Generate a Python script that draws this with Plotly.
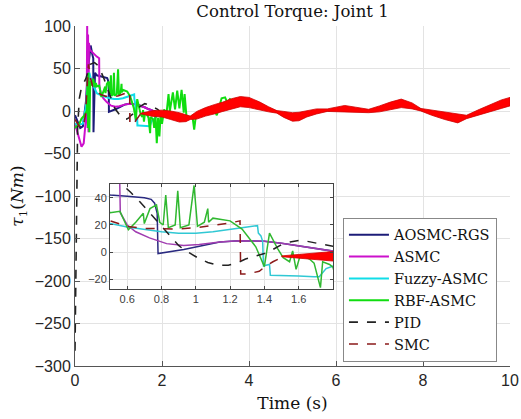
import plotly.graph_objects as go

# ---------------- data ----------------
# SMC chattering band (centre and half-width), also the common tail all controllers follow
BAND_T = [1.5, 1.6, 1.7, 1.8, 2.0, 2.2, 2.4, 2.55, 2.65, 2.8, 3.0, 3.2, 3.4, 3.6, 3.8, 4.0,
          4.25, 4.45, 4.64, 4.8, 5.0, 5.15, 5.33, 5.55, 5.8, 6.0, 6.2, 6.45, 6.75, 7.0, 7.25,
          7.5, 7.75, 7.95, 8.2, 8.5, 8.8, 9.0, 9.3, 9.6, 9.8, 10.0]
BAND_MID = [-3, -3, -3, -3, -3, -5, -7.5, -8.5, -8, -5, -1, 2, 5, 8.5, 11, 10,
            6, 2, -1, -4, -7, -6.5, -3.5, -0.5, 1, 1.5, 2.5, 1.5, 0, 2.5, 6,
            9, 6, 1.5, -2, -5.5, -9, -7, -1, 4.5, 8, 11]
BAND_HALF = [0.3, 1.5, 2.5, 3.5, 4, 5, 5.5, 4, 2, 4.5, 5, 5.5, 5.5, 6, 6, 6,
             4.5, 3, 1.5, 3.5, 5, 5, 3.5, 3, 1.5, 3, 4, 3, 2, 3.5, 4.5,
             5, 3.5, 1.5, 3, 4.5, 5, 2, 3, 4.5, 5, 5]

AOSMC_T = [0, 0.05, 0.12, 0.18, 0.25, 0.3, 0.34, 0.36, 0.4, 0.42, 0.425, 0.44, 0.46, 0.5,
           0.6, 0.7, 0.74, 0.76, 0.775, 0.78, 0.93, 1.14, 1.25, 1.4, 1.5, 1.6, 1.7, 1.8, 1.9]
AOSMC_V = [-5, -12, -20, -18, 10, 50, 70, 77, 66, 62, -25, 30, 45, 42,
           41, 40, 38.8, 36, 28.6, -1, 2, 7.5, 8.5, 8, 6.5, 4.4, 2, 0, -2]

ASMC_T = [0, 0.08, 0.15, 0.2, 0.25, 0.27, 0.28, 0.29, 0.3, 0.31, 0.32, 0.34, 0.38, 0.45,
          0.5, 0.555, 0.56, 0.6, 0.65, 0.73, 0.83, 0.93, 1.02, 1.14, 1.25, 1.4, 1.5, 1.6,
          1.7, 1.8, 1.9]
ASMC_V = [-15, -30, -42, -38, -10, 15, 100, -20, 90, -25, 80, 72, 70, 66,
          64, 62, 29, 20, 15, 10.5, 6.3, 5, 5.6, 7.5, 8.5, 8, 6.5, 4.4,
          2, 0, -2]

FUZZY_T = [0, 0.1, 0.18, 0.25, 0.3, 0.33, 0.38, 0.45, 0.5, 0.6, 0.7, 0.8, 0.9, 1.0, 1.1,
           1.2, 1.3, 1.36, 1.365, 1.38, 1.385, 1.39, 1.395, 1.43, 1.435, 1.46, 1.6, 1.69,
           1.72, 1.76, 1.8, 1.85, 1.9]
FUZZY_V = [-15, -16, -15, 5, 35, 45, 35, 26, 21, 18.5, 16.5, 15, 14, 14, 15,
           17, 18.5, 19.5, 14, 12, 9, 8, -10, -9, -17, -17, -17.5, -18,
           -18, -12, -10, -8, -4]

RBF_T = [0, 0.1, 0.15, 0.22, 0.27, 0.29, 0.3, 0.31, 0.33, 0.35, 0.38, 0.42, 0.45, 0.48,
         0.5, 0.558, 0.607, 0.65, 0.694, 0.70, 0.733, 0.771, 0.79, 0.81, 0.825, 0.84,
         0.88, 0.895, 0.91, 0.96, 0.99, 1.01, 1.05, 1.07, 1.075, 1.1, 1.2, 1.27, 1.35,
         1.4, 1.43, 1.48, 1.51, 1.547, 1.565, 1.585, 1.61, 1.663, 1.69, 1.727, 1.74,
         1.78, 1.8, 1.82, 1.85, 1.88, 1.91, 1.94, 1.97, 2.0, 2.05, 2.1, 2.15, 2.18,
         2.25, 2.3, 2.35, 2.4, 2.45, 2.5, 2.52, 2.56, 2.6, 2.7, 2.74, 2.78, 2.9, 3.0,
         3.2, 3.26, 3.3, 3.37, 3.45, 3.5, 3.56, 3.64, 3.7, 3.8]
RBF_V = [-20, -15, -9, -5, 0, 40, -20, 45, -25, 35, 30, 38, 28, 33,
         29, 30, 16.5, 22, 28.6, 21, 32, 34.7, 22, 20, 42, 18,
         20, 45, 18, 20, 49, 19, 22, 32, 22, 25, 23, 17, 4,
         -10.6, 14, 2, -4, -7, 1, -12.6, -2, -5, -8, -26, -7,
         -9, -11, -20, -5, -38, -8, -30, -3, -15, 2, -5, 20, 0,
         22, 2, 24, 3, 25, -2, 20, -5, -8, -6, -22, -5, -3, -1,
         1, -5, 2, 15, 16, 10, 14, 12, 10, 11]

PID_T = [0, 0.02, 0.04, 0.06, 0.1, 0.15, 0.25, 0.35, 0.45, 0.52, 0.568, 0.62, 0.674, 0.73,
         0.79, 0.85, 0.9, 0.93, 1.01, 1.07, 1.13, 1.19, 1.244, 1.29, 1.35, 1.4, 1.45, 1.5,
         1.55, 1.605, 1.65, 1.69, 1.75, 1.8, 1.9]
PID_V = [-282, -200, -90, -20, 15, 28, 38, 55, 57, 54, 50, 44, 37, 29,
         20, 12, 5, 2, -4, -7.5, -9.7, -9.5, -7.7, -5, -3, -1, 2, 5.6,
         7.5, 8.7, 8, 6.8, 5.5, 4.4, 2]

SMC_T = [0, 0.1, 0.18, 0.24, 0.28, 0.31, 0.35, 0.4, 0.45, 0.5, 0.6, 0.7, 0.8, 0.9, 1.0,
         1.1, 1.2, 1.258, 1.262, 1.3, 1.37, 1.4, 1.45, 1.5]
SMC_V = [-10, -18, -20, -5, 30, 55, 40, 30, 25, 23, 19, 17.5, 17, 17, 18,
         19.5, 21.5, 23, -16, -16, -14, -11, -7, -4]

NAMES = ["AOSMC-RGS", "ASMC", "Fuzzy-ASMC", "RBF-ASMC", "PID", "SMC"]
MAIN_X_TICKS = [0, 2, 4, 6, 8, 10]
MAIN_Y_TICKS = [-300, -250, -200, -150, -100, -50, 0, 50, 100]
INSET_X_TICKS = [0.6, 0.8, 1.0, 1.2, 1.4, 1.6]
INSET_X_TEXT = ["0.6", "0.8", "1", "1.2", "1.4", "1.6"]
INSET_Y_TICKS = [-20, 0, 20, 40]


def with_tail(t, v):
    tt, vv = list(t), list(v)
    for a, b in zip(BAND_T, BAND_MID):
        if a > tt[-1]:
            tt.append(a)
            vv.append(b)
    return tt, vv


SERIES = [
    (AOSMC_T, AOSMC_V, "#1c1c78", "#2a2a80", "solid"),
    (ASMC_T, ASMC_V, "#cc10cc", "#a03cb0", "solid"),
    (FUZZY_T, FUZZY_V, "#10dde8", "#30c8d4", "solid"),
    (RBF_T, RBF_V, "#10dd10", "#30b830", "solid"),
    (PID_T, PID_V, "#222222", "#222222", "dash"),
    (SMC_T, SMC_V, "#8b1a1a", "#8b1a1a", "dash"),
]

SERIF = "DejaVu Serif"
SANS = "Liberation Sans"

fig = go.Figure()

band_x = BAND_T + BAND_T[::-1]
band_y = [m + h for m, h in zip(BAND_MID, BAND_HALF)] + \
         [m - h for m, h in zip(BAND_MID[::-1], BAND_HALF[::-1])]

for axis_i, (xa, ya) in enumerate([("x", "y"), ("x2", "y2")]):
    for k, (t, v, c_main, c_in, dash) in enumerate(SERIES):
        if NAMES[k] == "SMC":
            tt, vv = list(t), list(v)
        else:
            tt, vv = with_tail(t, v)
        main = axis_i == 0
        fig.add_trace(go.Scatter(
            x=tt, y=vv, mode="lines", name=NAMES[k],
            xaxis=xa, yaxis=ya, showlegend=main,
            line=dict(color=c_main if main else c_in,
                      width=(1.6 if dash == "dash" else 2.0) if main else 1.5,
                      dash=dash),
        ))
    fig.add_trace(go.Scatter(
        x=band_x, y=band_y, mode="lines", fill="toself",
        fillcolor="#ff0000", line=dict(color="#d00000", width=0.8),
        xaxis=xa, yaxis=ya, showlegend=False, hoverinfo="skip",
    ))

axis_common = dict(showgrid=True, gridcolor="#e3e3e3", gridwidth=1, zeroline=False,
                   showline=True, ticks="inside", automargin=False)

fig.update_layout(
    width=521, height=419,
    margin=dict(l=75, r=11, t=26, b=53, autoexpand=False),
    paper_bgcolor="white", plot_bgcolor="white",
    title=dict(text="Control Torque: Joint 1", x=292.5 / 521, xanchor="center",
               y=1 - 11 / 419, yanchor="middle", yref="container",
               font=dict(family=SERIF, size=16.5, color="#111")),
    xaxis=dict(range=[0, 10], tickvals=MAIN_X_TICKS, linecolor="#555", ticklen=5,
               tickcolor="#555", mirror=False,
               tickfont=dict(family=SANS, size=16, color="#262626"),
               title=dict(text="Time (s)", font=dict(family=SERIF, size=17, color="#111"),
                          standoff=8),
               **axis_common),
    yaxis=dict(range=[-300, 100], tickvals=MAIN_Y_TICKS, linecolor="#555", ticklen=5,
               tickcolor="#555", mirror=False,
               tickfont=dict(family=SANS, size=16, color="#262626"),
               title=dict(text="<i>τ</i><sub>1</sub>(<i>Nm</i>)",
                          font=dict(family=SERIF, size=17, color="#111"), standoff=6),
               **axis_common),
    xaxis2=dict(domain=[0.0805, 0.593], anchor="y2", range=[0.5, 1.8],
                tickvals=INSET_X_TICKS, ticktext=INSET_X_TEXT, linecolor="#444",
                mirror="ticks", ticklen=3, tickcolor="#444",
                tickfont=dict(family=SANS, size=11, color="#404040"), **axis_common),
    yaxis2=dict(domain=[0.2265, 0.535], anchor="x2", range=[-27, 50],
                tickvals=INSET_Y_TICKS, linecolor="#444", mirror="ticks", ticklen=3,
                tickcolor="#444",
                tickfont=dict(family=SANS, size=11, color="#404040"), **axis_common),
    legend=dict(x=0.616, y=0.436, xanchor="left", yanchor="top", bgcolor="white",
                bordercolor="#888", borderwidth=1, itemwidth=40,
                font=dict(family=SERIF, size=14.5, color="#111"),
                tracegroupgap=0),
    shapes=[dict(type="rect", xref="x2 domain", yref="y2 domain", x0=0, x1=1, y0=0, y1=1,
                 fillcolor="white", line=dict(width=0), layer="below")],
)

fig.write_html("out.html", config={"displayModeBar": False},
               post_script="document.body.style.margin='0';document.body.style.padding='0';")
